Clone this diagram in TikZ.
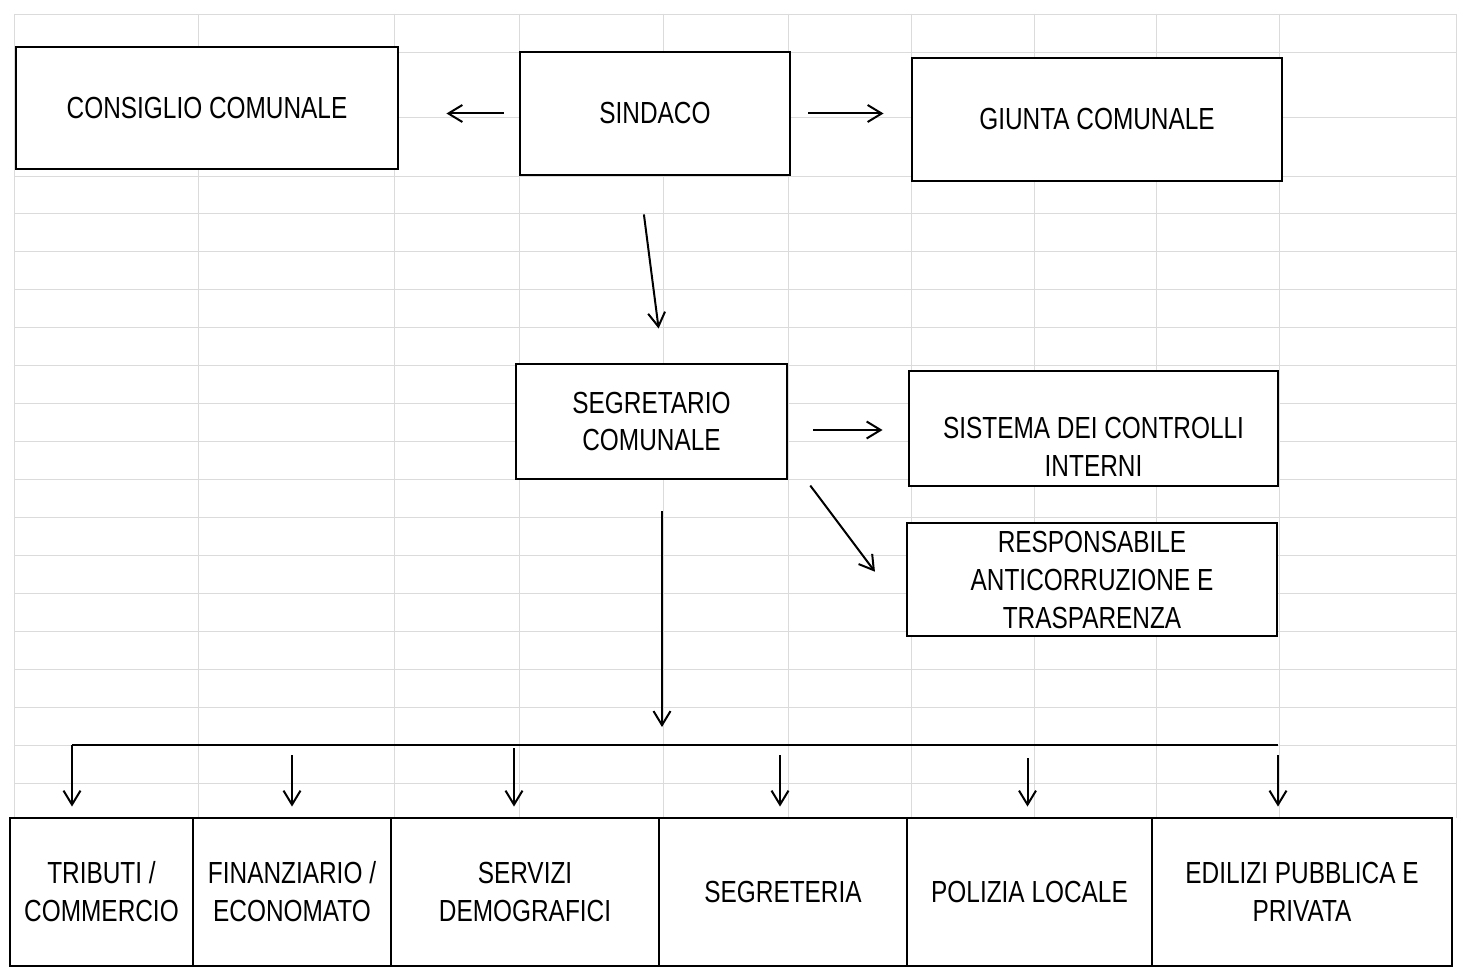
\documentclass[tikz,border=0pt]{standalone}
\usepackage{fontspec}
\setmainfont{Liberation Sans}[FakeStretch=0.8]
\usetikzlibrary{arrows.meta}
\newcommand\myboxfont{\fontsize{30.5}{38}\selectfont}
\begin{document}
\begin{tikzpicture}[x=1pt,y=-1pt,
  box/.style={draw, line width=2.9pt, fill=white, inner sep=0pt, align=center, font=\myboxfont},
  cell/.style={box, minimum height=148pt},
  txt/.style={inner sep=0pt, align=center, font=\myboxfont},
  arr/.style={line width=2pt, -{Straight Barb[length=14pt,width=17pt,line width=2pt]}},
  busline/.style={line width=2pt},
  gridline/.style={gray!28, line width=0.8pt}]
\useasboundingbox (0,0) rectangle (1465,976);
\fill[white] (0,0) rectangle (1465,976);
% spreadsheet grid
\foreach \gx in {14,198,394,519,663,788,911,1034,1156,1279,1456}
  \draw[gridline] (\gx,14) -- (\gx,818);
\foreach \gy in {14,52,117,176,213,251,289,327,365,403,441,479,517,555,593,631,669,707,745,783}
  \draw[gridline] (14,\gy) -- (1456,\gy);
% top row
\node[box, minimum width=382pt, minimum height=122pt] (consiglio) at (207,108) {CONSIGLIO COMUNALE};
\node[box, minimum width=270pt, minimum height=123pt] (sindaco) at (655,113.5) {SINDACO};
\node[box, minimum width=370pt, minimum height=123pt] (giunta) at (1097,119.5) {GIUNTA COMUNALE};
% middle
\node[box, minimum width=271pt, minimum height=115pt] (segretario) at (651.5,421.5) {SEGRETARIO\\COMUNALE};
\node[box, minimum width=369pt, minimum height=115pt] (sistema) at (1093.5,428.5) {};
\node[txt] (sistematxt) at (1093.5,446.5) {SISTEMA DEI CONTROLLI\\INTERNI};
\node[box, minimum width=370pt, minimum height=113pt] (responsabile) at (1092,579.5) {RESPONSABILE\\ANTICORRUZIONE E\\TRASPARENZA};
% bottom row
\node[cell, minimum width=183pt] (tributi) at (101.5,892) {TRIBUTI /\\COMMERCIO};
\node[cell, minimum width=198pt] (finanz) at (292,892) {FINANZIARIO /\\ECONOMATO};
\node[cell, minimum width=268pt] (servizi) at (525,892) {SERVIZI\\DEMOGRAFICI};
\node[cell, minimum width=248pt] (segreteria) at (783,892) {SEGRETERIA};
\node[cell, minimum width=245pt] (polizia) at (1029.5,892) {POLIZIA LOCALE};
\node[cell, minimum width=300pt] (edilizi) at (1302,892) {EDILIZI PUBBLICA E\\PRIVATA};
% connectors
\draw[arr, shorten <=15pt, shorten >=47pt] (sindaco.west) -- (sindaco.west -| consiglio.east);
\draw[arr, shorten <=17pt, shorten >=27pt] (sindaco.east) -- (sindaco.east -| giunta.west);
\draw[arr, shorten <=38.3pt, shorten >=34.3pt] ([xshift=-16pt]sindaco.south) -- ([xshift=11.5pt]segretario.north);
\draw[arr, shorten <=25pt, shorten >=25pt] ([yshift=-8.5pt]segretario.east) -- ([yshift=-8.5pt]segretario.east -| sistema.west);
\draw[arr, shorten <=6.4pt, shorten >=51pt] ([xshift=18pt]segretario.south east) -- ([yshift=-33pt]responsabile.west);
\coordinate (busL) at (72,745);
\coordinate (busR) at (1278,745);
\draw[arr, shorten <=31pt, shorten >=18pt] ([xshift=10.5pt]segretario.south) -- ([xshift=10.5pt]segretario.south |- busL);
\draw[busline] (busL) -- (busR);
\draw[arr, shorten >=10pt] (busL) -- (busL |- tributi.north);
\draw[arr, shorten <=10pt, shorten >=10pt] (finanz.north |- busL) -- (finanz.north);
\draw[arr, shorten <=3pt, shorten >=10pt] ([xshift=-11pt]servizi.north |- busL) -- ([xshift=-11pt]servizi.north);
\draw[arr, shorten <=10pt, shorten >=10pt] ([xshift=-3pt]segreteria.north |- busL) -- ([xshift=-3pt]segreteria.north);
\draw[arr, shorten <=13pt, shorten >=10pt] ([xshift=-2pt]polizia.north |- busL) -- ([xshift=-2pt]polizia.north);
\draw[arr, shorten <=10pt, shorten >=10pt] (busR) -- (busR |- edilizi.north);
\end{tikzpicture}
\end{document}
